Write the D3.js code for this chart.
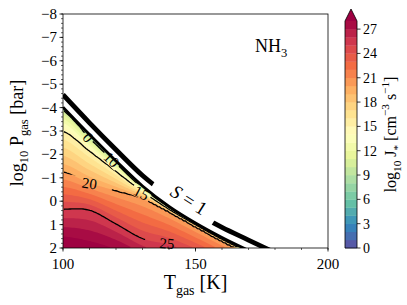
<!DOCTYPE html>
<html>
<head>
<meta charset="utf-8">
<script src="https://cdn.jsdelivr.net/npm/d3@7"></script>
<style>
  body { margin: 0; background: #fff; }
  text { font-family: "Liberation Serif", "DejaVu Serif", serif; fill: #000; white-space: pre; }
</style>
</head>
<body>
<div id="chart"></div>
<script>
// columns of the level table (T_gas in K)
const tCols = [100, 110, 120, 130, 140, 150, 160, 170, 180];
const jLevels = [5, 10, 15, 20, 25, 27, 28, 29];
// log10 P_gas at which log10 J* reaches each level, one value per column
const pAt5 = [-4.05, -2.90, -1.77, -0.68, 0.19, 0.88, 1.52, 2.08, 2.65];
const pAt10 = [-3.88, -2.72, -1.62, -0.57, 0.27, 0.95, 1.58, 2.14, 2.70];
const pAt15 = [-3.00, -2.15, -1.28, -0.42, 0.34, 1.00, 1.62, 2.19, 2.75];
const pAt20 = [-1.25, -0.78, -0.45, -0.13, 0.45, 1.08, 1.70, 2.28, 2.85];
const pAt25 = [0.34, 0.38, 0.97, 1.60, 1.85, 2.25, 2.70, 3.20, 3.70];
const pAt27 = [1.10, 1.25, 1.65, 2.20, 2.70, 3.00, 3.40, 3.80, 4.20];
const pAt28 = [1.50, 1.70, 2.05, 2.60, 3.10, 3.40, 3.80, 4.20, 4.60];
const pAt29 = [2.10, 2.40, 2.70, 3.20, 3.50, 3.80, 4.20, 4.60, 5.00];
const pRows = [pAt5, pAt10, pAt15, pAt20, pAt25, pAt27, pAt28, pAt29];

// saturation curve S = 1
const satT = [100, 110, 120, 130, 140, 150, 160, 170, 180];
const satP = [-4.55, -3.35, -2.20, -1.10, -0.22, 0.50, 1.12, 1.66, 2.20];
// inner edge of the nucleating region
const edgeT = [100, 110, 120, 130, 140, 150, 160, 170];
const edgeP = [-4.02, -2.85, -1.72, -0.65, 0.22, 0.93, 1.55, 2.10];

const fillLevels = d3.range(0, 29); // 0..28, extend max
const lineLevels = [10, 15, 20, 25];
const xTicks = [100, 150, 200];
const yTicks = d3.range(-8, 3);
const cbTicks = d3.range(0, 28, 3);

// layout
const W = 407, H = 305;
const pL = 63, pR = 328, pT = 14, pB = 248;
const x = d3.scaleLinear().domain([100, 200]).range([pL, pR]);
const y = d3.scaleLinear().domain([-8, 2]).range([pT, pB]);

const lineLabels = [
  { text: "0", T: 109.5, P: -2.72, rot: 50, gap: 12 },
  { text: "10", T: 118.3, P: -1.78, rot: 45, gap: 20 },
  { text: "15", T: 129.6, P: -0.36, rot: 28, gap: 20 },
  { text: "20", T: 110.0, P: -0.76, rot: 8, gap: 46 },
  { text: "25", T: 139.2, P: 1.80, rot: 5, gap: 44 }
];
const satLabel = { T: 146.2, P: 0.18, gapFrom: 134, gapTo: 156.6 };

const spectral = ["#9e0142", "#d53e4f", "#f46d43", "#fdae61", "#fee08b", "#ffffbf",
  "#e6f598", "#abdda4", "#66c2a5", "#3288bd", "#5e4fa2"].reverse();
const cmap = d3.scaleLinear().domain(d3.range(11).map(i => i / 10)).range(spectral);
const overColor = "#9e0142";
const bandColor = k => (k >= 28 ? overColor : cmap((k + 0.5) / 28));

// catmull-rom through one row of the table
function colInterp(row, T) {
  const n = row.length;
  const u = (T - tCols[0]) / (tCols[1] - tCols[0]);
  const i = Math.max(0, Math.min(n - 2, Math.floor(u)));
  const t = u - i;
  const p0 = row[Math.max(i - 1, 0)], p1 = row[i], p2 = row[i + 1], p3 = row[Math.min(i + 2, n - 1)];
  const m1 = (p2 - p0) / 2, m2 = (p3 - p1) / 2;
  const t2 = t * t, t3 = t2 * t;
  return (2 * t3 - 3 * t2 + 1) * p1 + (t3 - 2 * t2 + t) * m1 + (-2 * t3 + 3 * t2) * p2 + (t3 - t2) * m2;
}
function levelAt(P, cr) {
  const n = cr.length;
  if (P <= cr[0]) return jLevels[0] - (cr[0] - P) * 30;
  for (let k = 0; k < n - 1; k++) {
    if (P <= cr[k + 1]) return jLevels[k] + (P - cr[k]) / (cr[k + 1] - cr[k]) * (jLevels[k + 1] - jLevels[k]);
  }
  return jLevels[n - 1] + (P - cr[n - 1]);
}

// grid for d3.contours
const nx = 133, ny = 117;
const vals = new Float64Array(nx * ny);
for (let i = 0; i < nx; i++) {
  const T = Math.min(100 + (i + 0.5) * 100 / nx, 180);
  const cr = pRows.map(r => colInterp(r, T));
  for (let j = 0; j < ny; j++) {
    const P = -8 + (j + 0.5) * 10 / ny;
    vals[j * nx + i] = levelAt(P, cr);
  }
}
const gridPath = d3.geoPath(d3.geoTransform({
  point(px, py) { this.stream.point(x(100 + px * 100 / nx), y(-8 + py * 10 / ny)); }
}));

const svg = d3.select("#chart").append("svg").attr("width", W).attr("height", H);
const defs = svg.append("defs");

defs.append("clipPath").attr("id", "plotClip")
  .append("rect").attr("x", pL).attr("y", pT).attr("width", pR - pL).attr("height", pB - pT);
defs.append("clipPath").attr("id", "innerClip")
  .append("rect").attr("x", pL + 1).attr("y", pT + 1).attr("width", pR - pL - 2).attr("height", pB - pT - 2);

const edgePts = edgeT.map((t, i) => [t, edgeP[i]]);
const satPts = satT.map((t, i) => [t, satP[i]]);
const edgeArea = d3.area().x(d => x(d[0])).y0(y(2.6)).y1(d => y(d[1])).curve(d3.curveMonotoneX);
defs.append("clipPath").attr("id", "edgeClip").append("path").attr("d", edgeArea(edgePts));

// mask cutting the contour lines under their labels
const lblMask = defs.append("mask").attr("id", "lblMask").attr("maskUnits", "userSpaceOnUse")
  .attr("x", 0).attr("y", 0).attr("width", W).attr("height", H);
lblMask.append("rect").attr("width", W).attr("height", H).attr("fill", "#fff");
lineLabels.forEach(l => {
  lblMask.append("rect").attr("x", -l.gap / 2).attr("y", -6).attr("width", l.gap).attr("height", 12)
    .attr("fill", "#000").attr("transform", `translate(${x(l.T)},${y(l.P)}) rotate(${l.rot})`);
});

// gap in the S = 1 line
const g1 = [x(satLabel.gapFrom), y(colInterp(satP, satLabel.gapFrom))];
const g2 = [x(satLabel.gapTo), y(colInterp(satP, satLabel.gapTo))];
const gapLen = Math.hypot(g2[0] - g1[0], g2[1] - g1[1]);
const gapAng = Math.atan2(g2[1] - g1[1], g2[0] - g1[0]) * 180 / Math.PI;
const satMask = defs.append("mask").attr("id", "satMask").attr("maskUnits", "userSpaceOnUse")
  .attr("x", 0).attr("y", 0).attr("width", W).attr("height", H);
satMask.append("rect").attr("width", W).attr("height", H).attr("fill", "#fff");
satMask.append("rect").attr("x", 0).attr("y", -8).attr("width", gapLen).attr("height", 16).attr("fill", "#000")
  .attr("transform", `translate(${g1[0]},${g1[1]}) rotate(${gapAng})`);

// filled contours
const filled = d3.contours().size([nx, ny]).thresholds(fillLevels)(vals);
svg.append("g").attr("clip-path", "url(#plotClip)")
  .append("g").attr("clip-path", "url(#edgeClip)")
  .selectAll("path").data(filled).join("path")
  .attr("d", gridPath).attr("fill", d => bandColor(d.value));

// contour lines
const lines = d3.contours().size([nx, ny]).thresholds(lineLevels)(vals);
svg.append("g").attr("clip-path", "url(#innerClip)")
  .append("g").attr("clip-path", "url(#edgeClip)")
  .append("g").attr("mask", "url(#lblMask)")
  .selectAll("path").data(lines).join("path")
  .attr("d", gridPath).attr("fill", "none").attr("stroke", "#000").attr("stroke-width", 1.3);

svg.append("g").selectAll("text").data(lineLabels).join("text")
  .attr("transform", d => `translate(${x(d.T)},${y(d.P)}) rotate(${d.rot})`)
  .attr("text-anchor", "middle").attr("dy", "0.35em").attr("font-size", 15)
  .attr("fill", "#222").text(d => d.text);

// edge and saturation lines
const curveLine = d3.line().x(d => x(d[0])).y(d => y(d[1])).curve(d3.curveMonotoneX);
const gLines = svg.append("g").attr("clip-path", "url(#plotClip)");
gLines.append("path").attr("d", curveLine(edgePts)).attr("fill", "none")
  .attr("stroke", "#000").attr("stroke-width", 2.8);
gLines.append("path").attr("d", curveLine(satPts)).attr("fill", "none").attr("mask", "url(#satMask)")
  .attr("stroke", "#000").attr("stroke-width", 4.8);

function rich(sel, parts, size) {
  let off = 0;
  parts.forEach(([s, kind]) => {
    const target = kind === "sub" ? size * 0.3 : kind === "sup" ? -size * 0.42 : 0;
    const t = sel.append("tspan").attr("dy", target - off)
      .attr("font-size", kind ? size * 0.7 : size).text(s);
    if (kind === "it") t.attr("font-style", "italic").attr("font-size", size);
    off = kind === "it" ? 0 : target;
  });
}

const sLbl = svg.append("text")
  .attr("transform", `translate(${x(satLabel.T)},${y(satLabel.P)}) rotate(${gapAng})`)
  .attr("text-anchor", "middle").attr("dy", "0.35em").attr("font-size", 19);
rich(sLbl, [["S", "it"], [" = 1", null]], 19);

// axes frame
svg.append("rect").attr("x", pL).attr("y", pT).attr("width", pR - pL).attr("height", pB - pT)
  .attr("fill", "none").attr("stroke", "#000").attr("stroke-width", 0.8);

const gx = svg.append("g");
gx.selectAll("line.minor").data(d3.range(100, 201, 10)).join("line")
  .attr("x1", d => x(d)).attr("x2", d => x(d)).attr("y1", pB).attr("y2", pB + 2)
  .attr("stroke", "#000").attr("stroke-width", 0.6);
gx.selectAll("line.major").data(xTicks).join("line")
  .attr("x1", d => x(d)).attr("x2", d => x(d)).attr("y1", pB).attr("y2", pB + 3.5)
  .attr("stroke", "#000").attr("stroke-width", 0.8);
gx.selectAll("text").data(xTicks).join("text")
  .attr("x", d => x(d)).attr("y", 269).attr("text-anchor", "middle").attr("font-size", 15).text(d => d);

const gy = svg.append("g");
gy.selectAll("line.minor").data(d3.range(-8, 2.01, 0.2)).join("line")
  .attr("y1", d => y(d)).attr("y2", d => y(d)).attr("x1", pL).attr("x2", pL - 2)
  .attr("stroke", "#000").attr("stroke-width", 0.6);
gy.selectAll("line.major").data(yTicks).join("line")
  .attr("y1", d => y(d)).attr("y2", d => y(d)).attr("x1", pL).attr("x2", pL - 3.5)
  .attr("stroke", "#000").attr("stroke-width", 0.8);
gy.selectAll("text").data(yTicks).join("text")
  .attr("x", pL - 6).attr("y", d => y(d)).attr("dy", "0.33em").attr("text-anchor", "end")
  .attr("font-size", 15).text(d => (d < 0 ? "\u2212" + (-d) : d));

const xl = svg.append("text").attr("x", (pL + pR) / 2).attr("y", 289).attr("text-anchor", "middle").attr("font-size", 20);
rich(xl, [["T", null], ["gas", "sub"], [" [K]", null]], 20);

const yl = svg.append("text").attr("transform", `translate(23,${(pT + pB) / 2 + 2}) rotate(-90)`)
  .attr("text-anchor", "middle").attr("font-size", 18);
rich(yl, [["log", null], ["10", "sub"], [" P", null], ["gas", "sub"], [" [bar]", null]], 18);

const nh = svg.append("text").attr("x", 255).attr("y", 52).attr("font-size", 18);
rich(nh, [["NH", null], ["3", "sub"]], 18);

// colorbar
const cb = d3.scaleLinear().domain([0, 28]).range([pB, 21]);
const cbX = 345, cbW = 12;
const gcb = svg.append("g");
gcb.selectAll("rect").data(fillLevels.slice(0, 28)).join("rect")
  .attr("x", cbX).attr("width", cbW).attr("y", d => cb(d + 1)).attr("height", d => cb(d) - cb(d + 1) + 0.3)
  .attr("fill", d => bandColor(d));
const tipY = cb(28) - 12;
gcb.append("path").attr("d", `M${cbX},${cb(28)}L${cbX + cbW / 2},${tipY}L${cbX + cbW},${cb(28)}Z`).attr("fill", overColor);
gcb.append("path")
  .attr("d", `M${cbX},${cb(0)}V${cb(28)}L${cbX + cbW / 2},${tipY}L${cbX + cbW},${cb(28)}V${cb(0)}Z`)
  .attr("fill", "none").attr("stroke", "#000").attr("stroke-width", 0.8);
gcb.selectAll("line").data(cbTicks).join("line")
  .attr("x1", cbX + cbW).attr("x2", cbX + cbW + 3.5).attr("y1", d => cb(d)).attr("y2", d => cb(d))
  .attr("stroke", "#000").attr("stroke-width", 0.8);
gcb.selectAll("text").data(cbTicks).join("text")
  .attr("x", cbX + cbW + 6).attr("y", d => cb(d)).attr("dy", "0.35em").attr("font-size", 14).text(d => d);

const cl = svg.append("text").attr("transform", `translate(396,${cb(14)}) rotate(-90)`)
  .attr("text-anchor", "middle").attr("font-size", 16);
rich(cl, [["log", null], ["10", "sub"], [" J", null], ["*", "sub"], [" [cm", null], ["\u22123", "sup"], [" s", null], ["\u22121", "sup"], ["]", null]], 16);
</script>
</body>
</html>
